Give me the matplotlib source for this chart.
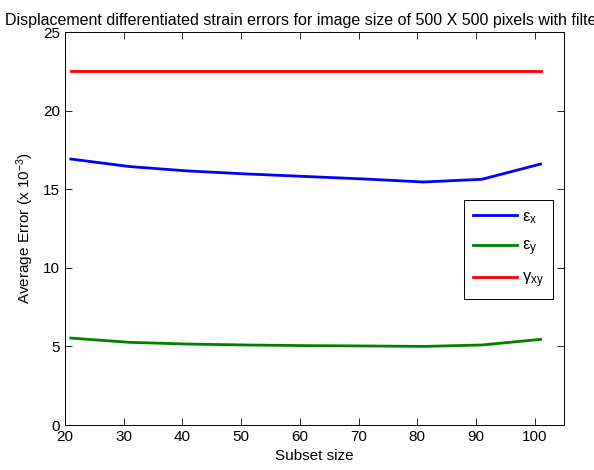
import matplotlib
matplotlib.use("Agg")
import matplotlib.pyplot as plt

plt.rcParams['font.family'] = ['Liberation Sans', 'DejaVu Sans']
plt.rcParams['mathtext.fontset'] = 'custom'
plt.rcParams['mathtext.rm'] = 'Liberation Sans'
plt.rcParams['mathtext.it'] = 'Liberation Sans'
plt.rcParams['mathtext.default'] = 'regular'

# Subset sizes and average strain errors (x 10^-3)
subset_size = [21, 31, 41, 51, 61, 71, 81, 91, 101]
err_ex = [16.92, 16.44, 16.16, 15.97, 15.81, 15.65, 15.46, 15.63, 16.60]
err_ey = [5.53, 5.26, 5.15, 5.09, 5.05, 5.03, 5.00, 5.09, 5.45]
err_gxy = [22.52] * len(subset_size)

x_ticks = [20, 30, 40, 50, 60, 70, 80, 90, 100]
y_ticks = [0, 5, 10, 15, 20, 25]

fig = plt.figure(figsize=(5.94, 4.70), dpi=100)
ax = fig.add_axes([0.1094, 0.0957, 0.8401, 0.8362])

ax.plot(subset_size, err_ex, color='#0000ff', lw=2, label='ε$_x$')
ax.plot(subset_size, err_ey, color='#008000', lw=2, label='ε$_y$')
ax.plot(subset_size, err_gxy, color='#ff0000', lw=2, label='γ$_{xy}$')

ax.set_xlim(20, 105)
ax.set_ylim(0, 25)
ax.set_xticks(x_ticks)
ax.set_yticks(y_ticks)
ax.tick_params(direction='in', top=True, right=True, labelsize=11, length=5, width=0.6)
for s in ax.spines.values():
    s.set_linewidth(0.7)

ax.set_xlabel('Subset size', fontsize=11, labelpad=4)
ax.set_ylabel('Average Error (x 10$^{-3}$)', fontsize=11, labelpad=5)
ax.set_title('Displacement differentiated strain errors for image size of 500 X 500 pixels with filtering',
             fontsize=11.5, pad=5)

leg = ax.legend(loc='upper left', bbox_to_anchor=(0.80, 0.5725), borderaxespad=0,
                fontsize=12, handlelength=2.6, fancybox=False, edgecolor='black',
                framealpha=1, borderpad=0.55, labelspacing=0.75, handletextpad=0.3)
leg.get_frame().set_linewidth(0.7)

fig.savefig('out.png', dpi=100)
